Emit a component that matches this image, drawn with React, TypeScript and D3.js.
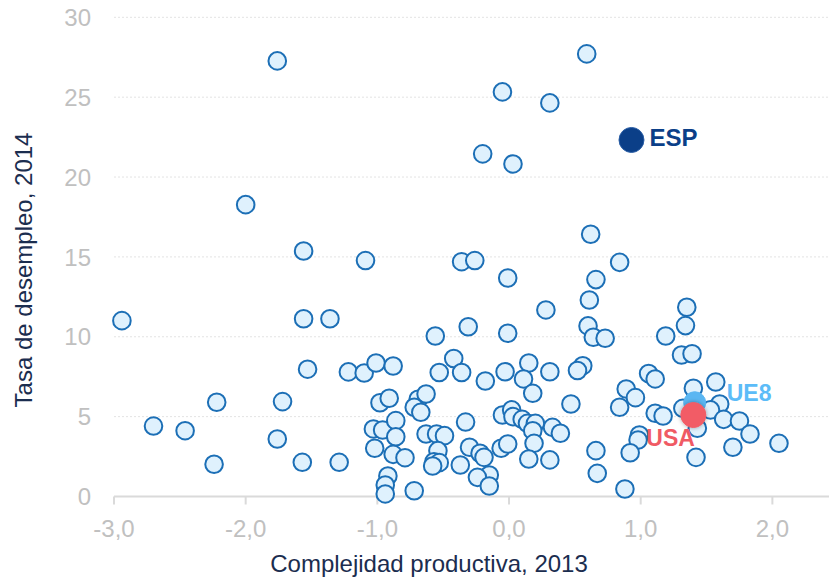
import React from 'react';
import * as d3 from 'd3';

// complejidad productiva (2013) y tasa de desempleo (2014), resto de países
const complejidad = [
  -1.76, 0.59, -0.05, 0.31, -0.2, 0.03, -2.0, 0.62, -1.56, -1.09, -0.36, -0.26, 0.84, -0.01, 0.66,
  -2.94, -1.56, -1.36, 0.28, 0.61, 1.35, -0.31, 0.6, 1.34, -0.56, -0.01, 0.64, 1.19, 0.73,
  1.31, 1.39, 0.56, 0.52, 1.06, 1.11, 1.57,
  -1.53, -1.22, -1.1, -1.01, -0.88, -0.53, -0.42, -0.36, -0.18, -0.03, 0.15, 0.11, 0.18, 0.31, 0.47,
  -0.98, -0.91, -0.69, -0.63, -0.72, -0.67, -0.33, -0.05, 0.02, 0.03, 0.1, 0.14, 0.2, 0.18, 0.33, 0.39,
  -1.03, -0.96, -0.86, -0.86, -1.02, -0.88, -0.79, -0.63, -0.55, -0.49, -0.54, -0.57, -0.53, -0.58,
  -0.37, -0.3, -0.22, -0.19, -0.06, -0.01, 0.19, 0.15, 0.31, -0.15, -0.24, -0.15, -0.92, -0.94, -0.94, -0.72,
  0.89, 0.96, 0.84, 1.4, 1.32, 1.11, 1.17, 1.6, 1.53, 1.63, 1.75, 1.83, 1.43, 0.99, 0.98, 0.92, 1.7,
  2.05, 1.42, 0.66, 0.67, 0.88,
  -2.22, -1.72, -2.7, -2.46, -1.76, -2.24, -1.57, -1.29,
];
const desempleo = [
  27.27, 27.71, 25.33, 24.64, 21.45, 20.82, 18.27, 16.42, 15.37, 14.77, 14.7, 14.77, 14.66, 13.68, 13.58,
  11.01, 11.13, 11.13, 11.68, 12.3, 11.85, 10.63, 10.68, 10.7, 10.05, 10.22, 9.97, 10.05, 9.91,
  8.86, 8.94, 8.19, 7.89, 7.7, 7.36, 7.17,
  7.97, 7.8, 7.73, 8.36, 8.17, 7.76, 8.64, 7.76, 7.23, 7.81, 8.36, 7.36, 6.46, 7.81, 5.79,
  5.87, 6.15, 6.09, 6.42, 5.59, 5.27, 4.66, 5.1, 5.42, 5.0, 4.83, 4.58, 4.58, 4.12, 4.33, 3.96,
  4.23, 4.16, 4.75, 3.74, 3.02, 2.64, 2.43, 3.91, 3.91, 3.81, 2.87, 2.18, 2.12, 1.91,
  1.97, 3.08, 2.71, 2.45, 3.02, 3.29, 3.33, 2.35, 2.29, 1.35, 1.2, 0.66, 1.28, 0.72, 0.16, 0.36,
  6.73, 6.19, 5.59, 6.78, 5.52, 5.21, 5.04, 5.79, 5.42, 4.83, 4.73, 3.91, 4.27, 3.85, 3.54, 2.74, 3.08,
  3.33, 2.45, 2.87, 1.45, 0.47,
  5.9, 5.94, 4.41, 4.12, 3.6, 2.02, 2.14, 2.14,
];

// países destacados
const destacados = ['UE8', 'USA', 'ESP'];
const destacadosX = [1.41, 1.4, 0.93];
const destacadosY = [5.87, 5.1, 22.32];

const xTicks = [-3, -2, -1, 0, 1, 2];
const yTicks = [0, 5, 10, 15, 20, 25, 30];
const xTitle = 'Complejidad productiva, 2013';
const yTitle = 'Tasa de desempleo, 2014';

const width = 829;
const height = 577;
const font = "'Liberation Sans', Arial, sans-serif";

// estilo de cada destacado
const estilo: Record<string, { fill: string; text: string; r: number; dx: number; dy: number }> = {
  UE8: { fill: '#5ab6f2', text: '#5cbcf8', r: 11, dx: 32, dy: -2 },
  USA: { fill: '#f25c66', text: '#f05a64', r: 12.5, dx: -47, dy: 31 },
  ESP: { fill: '#0b3f88', text: '#0b3f88', r: 12.5, dx: 18, dy: 6 },
};

export default function App() {
  const x = d3.scaleLinear().domain([-3, 2.43]).range([114, 829]);
  const y = d3.scaleLinear().domain([0, 30]).range([496.5, 17.3]);
  const fmt = (v: number) => v.toFixed(1).replace('.', ',');

  return (
    <svg
      width={width}
      height={height}
      style={{ position: 'absolute', left: 0, top: 0, background: '#fff' }}
      fontFamily={font}
    >
      <defs>
        <filter id="sombra" x="-50%" y="-50%" width="200%" height="200%">
          <feDropShadow dx="0" dy="0" stdDeviation="2" floodColor="#000" floodOpacity="0.35" />
        </filter>
      </defs>

      {yTicks.map((t) => (
        <g key={t}>
          {t > 0 && (
            <line
              x1={x(-3)}
              x2={width}
              y1={y(t)}
              y2={y(t)}
              stroke="#e3e3e3"
              strokeDasharray="2,2"
            />
          )}
          <text
            x={91}
            y={y(t)}
            dy="0.36em"
            textAnchor="end"
            fontSize={24}
            fill="#c0c0c0"
          >
            {t}
          </text>
        </g>
      ))}

      <line x1={x(-3)} x2={width} y1={y(0)} y2={y(0)} stroke="#dadada" strokeWidth={2} />
      {xTicks.map((t) => (
        <g key={t}>
          <line x1={x(t)} x2={x(t)} y1={y(0)} y2={y(0) + 8} stroke="#dadada" strokeWidth={2} />
          <text x={x(t)} y={537} textAnchor="middle" fontSize={24} fill="#c0c0c0">
            {fmt(t)}
          </text>
        </g>
      ))}

      <text x={429} y={572} textAnchor="middle" fontSize={24} fill="#1b2d4f">
        {xTitle}
      </text>
      <text
        transform={`translate(32,270) rotate(-90)`}
        textAnchor="middle"
        fontSize={24}
        fill="#1b2d4f"
      >
        {yTitle}
      </text>

      {complejidad.map((cx, i) => (
        <circle
          key={i}
          cx={x(cx)}
          cy={y(desempleo[i])}
          r={8.8}
          fill="#dff1fd"
          stroke="#1c6fb6"
          strokeWidth={2}
        />
      ))}

      {destacados.map((name, i) => {
        const s = estilo[name];
        const cx = x(destacadosX[i]);
        const cy = y(destacadosY[i]);
        return (
          <g key={name}>
            <circle
              cx={cx}
              cy={cy}
              r={s.r}
              fill={s.fill}
              stroke={name === 'ESP' ? '#2a5ea6' : s.fill}
              strokeWidth={1}
              filter={name === 'USA' ? 'url(#sombra)' : undefined}
            />
            <text
              x={cx + s.dx}
              y={cy + s.dy}
              fontSize={name === 'ESP' ? 24 : 23}
              fontWeight="bold"
              fill={s.text}
            >
              {name}
            </text>
          </g>
        );
      })}
    </svg>
  );
}
